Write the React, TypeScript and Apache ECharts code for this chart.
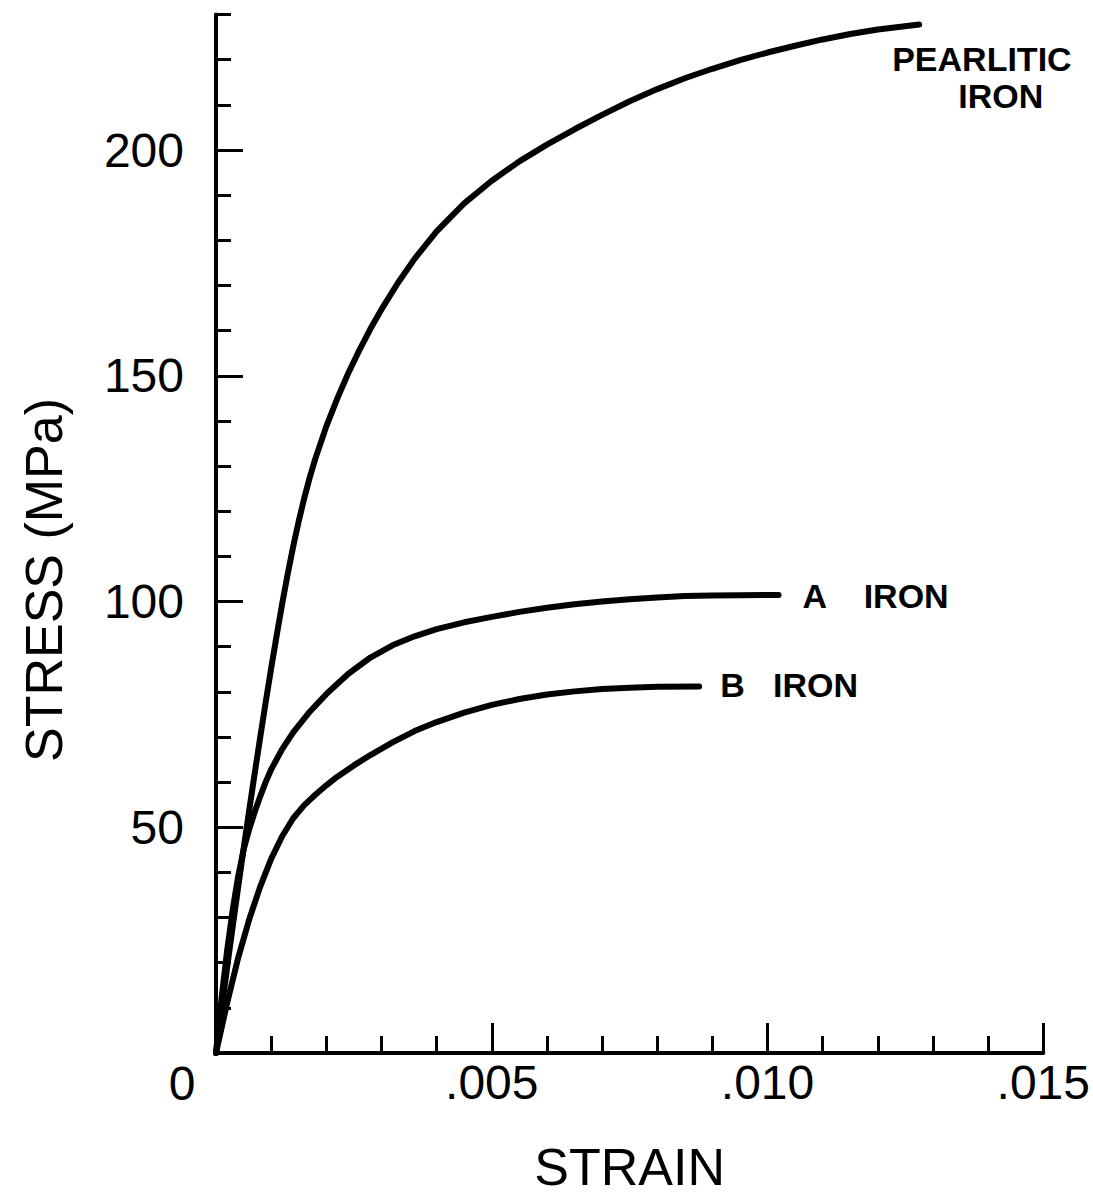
import React, { useEffect, useRef } from "react";
import * as echarts from "echarts";

// Stress–strain curves (strain, stress in MPa)
const pearliticIron: [number, number][] = [
  [0, 0], [0.0001, 9.5], [0.0002, 18.8], [0.0003, 27.8], [0.0004, 36.6], [0.0005, 45.2],
  [0.0006, 53.6], [0.0007, 61.8], [0.0008, 69.8], [0.0009, 77.6], [0.001, 85.2],
  [0.0011, 92.5], [0.0012, 99.5], [0.0013, 106.1], [0.0014, 112.2], [0.0015, 117.8],
  [0.0016, 122.9], [0.0017, 127.5], [0.0018, 131.6], [0.002, 138.8], [0.0022, 145],
  [0.0024, 150.6], [0.0026, 155.7], [0.0028, 160.4], [0.003, 164.7], [0.0033, 170.6],
  [0.0036, 175.9], [0.004, 182], [0.0045, 188.2], [0.005, 193.2], [0.0055, 197.5],
  [0.006, 201.2], [0.0065, 204.6], [0.007, 207.8], [0.0075, 210.8], [0.008, 213.5],
  [0.0085, 215.9], [0.009, 218], [0.0095, 219.9], [0.01, 221.6], [0.0105, 223.1],
  [0.011, 224.5], [0.0115, 225.7], [0.012, 226.7], [0.01275, 227.8],
];

const aIron: [number, number][] = [
  [0, 0], [0.0001, 12], [0.0002, 22.5], [0.0003, 31.5], [0.0004, 39], [0.0005, 45],
  [0.0006, 49.5], [0.0007, 53.3], [0.0008, 56.8], [0.0009, 60], [0.001, 62.8],
  [0.0012, 67.3], [0.0014, 71], [0.0017, 75.6], [0.002, 79.5], [0.0024, 84],
  [0.0028, 87.6], [0.0032, 90.3], [0.0036, 92.3], [0.004, 93.9], [0.0045, 95.4],
  [0.005, 96.6], [0.0055, 97.7], [0.006, 98.6], [0.0065, 99.4], [0.007, 100],
  [0.0075, 100.5], [0.008, 100.9], [0.0085, 101.2], [0.009, 101.35], [0.0095, 101.4],
  [0.0102, 101.45],
];

const bIron: [number, number][] = [
  [0, 0], [0.0002, 11], [0.0004, 21], [0.0006, 29.5], [0.0008, 36.8], [0.001, 43],
  [0.0012, 48], [0.0014, 52], [0.0016, 54.9], [0.0018, 57.2], [0.002, 59.3],
  [0.0022, 61.2], [0.0025, 63.7], [0.0028, 66], [0.0032, 68.8], [0.0036, 71.3],
  [0.004, 73.3], [0.0045, 75.4], [0.005, 77.1], [0.0055, 78.4], [0.006, 79.4],
  [0.0065, 80.1], [0.007, 80.6], [0.0075, 80.9], [0.008, 81.1], [0.00876, 81.2],
];

// Axis ticks and labels
const strainMajorTicks = [0.005, 0.01, 0.015];
const stressMajorTicks = [50, 100, 150, 200];
const strainMax = 0.015;
const stressMax = 230;

const FONT = "'Liberation Sans', Arial, sans-serif";
const INK = "#000";

const fmtStrain = (v: number) => v.toFixed(3).replace(/^0/, "");

export default function App() {
  const ref = useRef<HTMLDivElement>(null);

  useEffect(() => {
    if (!ref.current) return;
    const chart = echarts.init(ref.current, null, { renderer: "svg" });

    const lineSeries = (name: string, data: [number, number][]) => ({
      name,
      type: "line",
      data,
      xAxisIndex: 0,
      yAxisIndex: 0,
      showSymbol: false,
      smooth: false,
      lineStyle: { color: INK, width: 6, cap: "round", join: "round" },
      silent: true,
    });

    chart.setOption({
      animation: false,
      backgroundColor: "#fff",
      grid: { left: 216, right: 41, top: 14.6, bottom: 148, containLabel: false },
      xAxis: [
        {
          type: "value",
          min: 0,
          max: strainMax,
          interval: 0.001,
          position: "bottom",
          axisLine: { show: true, onZero: false, lineStyle: { color: INK, width: 4 } },
          axisTick: { show: true, inside: true, length: 17, lineStyle: { color: INK, width: 3 } },
          axisLabel: {
            customValues: strainMajorTicks,
            formatter: fmtStrain,
            fontFamily: FONT,
            fontSize: 48,
            color: INK,
            margin: 5,
          },
          splitLine: { show: false },
          name: "STRAIN",
          nameLocation: "middle",
          nameGap: 88,
          nameTextStyle: { fontFamily: FONT, fontSize: 52, color: INK },
        },
        {
          type: "value",
          min: 0,
          max: strainMax,
          position: "bottom",
          axisLine: { show: false, onZero: false },
          axisTick: {
            show: true,
            inside: true,
            length: 30,
            customValues: strainMajorTicks,
            lineStyle: { color: INK, width: 3 },
          },
          axisLabel: { show: false },
          splitLine: { show: false },
        },
      ],
      yAxis: [
        {
          type: "value",
          min: 0,
          max: stressMax,
          interval: 10,
          position: "left",
          axisLine: { show: true, onZero: false, lineStyle: { color: INK, width: 4 } },
          axisTick: { show: true, inside: true, length: 15, lineStyle: { color: INK, width: 3 } },
          axisLabel: {
            customValues: stressMajorTicks,
            fontFamily: FONT,
            fontSize: 48,
            color: INK,
            margin: 32,
          },
          splitLine: { show: false },
        },
        {
          type: "value",
          min: 0,
          max: stressMax,
          position: "left",
          axisLine: { show: false, onZero: false },
          axisTick: {
            show: true,
            inside: true,
            length: 27,
            customValues: stressMajorTicks,
            lineStyle: { color: INK, width: 3 },
          },
          axisLabel: { show: false },
          splitLine: { show: false },
        },
      ],
      series: [
        lineSeries("PEARLITIC IRON", pearliticIron),
        lineSeries("A IRON", aIron),
        lineSeries("B IRON", bIron),
      ],
    });

    // Place the curve labels next to each curve's end point.
    const px = (p: [number, number]) =>
      chart.convertToPixel({ xAxisIndex: 0, yAxisIndex: 0 }, p) as number[];
    const pEnd = px(pearliticIron[pearliticIron.length - 1]);
    const aEnd = px(aIron[aIron.length - 1]);
    const bEnd = px(bIron[bIron.length - 1]);
    const origin = px([0, 0]);

    const curveText = (text: string, x: number, y: number) => ({
      type: "text",
      x,
      y,
      silent: true,
      style: {
        text,
        fill: INK,
        font: `bold 34px ${FONT}`,
        align: "left",
        verticalAlign: "middle",
      },
    });

    chart.setOption({
      graphic: [
        curveText("PEARLITIC", pEnd[0] - 27, pEnd[1] + 34),
        curveText("IRON", pEnd[0] + 39, pEnd[1] + 71),
        curveText("A    IRON", aEnd[0] + 24, aEnd[1] + 1),
        curveText("B   IRON", bEnd[0] + 21, bEnd[1] - 1),
        {
          type: "text",
          x: origin[0] - 34,
          y: origin[1] + 30,
          silent: true,
          style: {
            text: "0",
            fill: INK,
            font: `48px ${FONT}`,
            align: "center",
            verticalAlign: "middle",
          },
        },
        {
          type: "text",
          x: 44,
          y: 580,
          rotation: Math.PI / 2,
          silent: true,
          style: {
            text: "STRESS (MPa)",
            fill: INK,
            font: `52px ${FONT}`,
            align: "center",
            verticalAlign: "middle",
          },
        },
      ],
    });

    return () => chart.dispose();
  }, []);

  return (
    <div
      ref={ref}
      style={{ position: "fixed", left: 0, top: 0, width: 1093, height: 1201 }}
    />
  );
}
